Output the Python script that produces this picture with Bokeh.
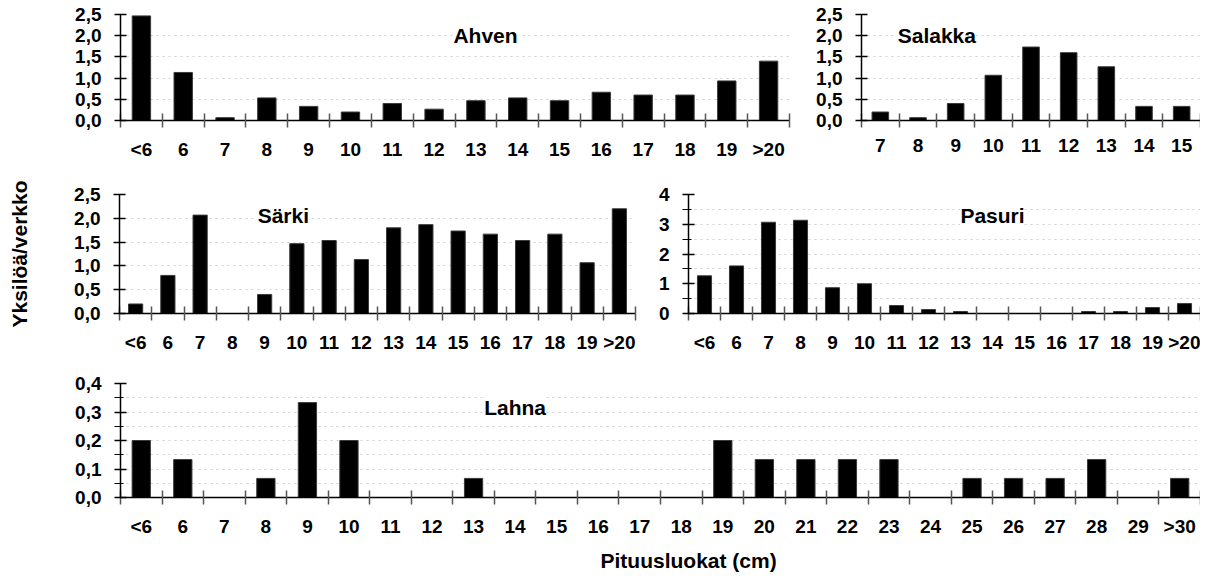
from bokeh.plotting import figure
from bokeh.layouts import column, row
from bokeh.models import Range1d, FixedTicker, Label, CustomJSTickFormatter, Title
from bokeh.embed import file_html
from bokeh.resources import INLINE

# ---- data ----
ahven_cats = ["<6", "6", "7", "8", "9", "10", "11", "12", "13", "14", "15", "16", "17", "18", "19", ">20"]
ahven_vals = [2.467, 1.133, 0.067, 0.533, 0.333, 0.2, 0.4, 0.267, 0.467, 0.533, 0.467, 0.667, 0.6, 0.6, 0.933, 1.4]

salakka_cats = ["7", "8", "9", "10", "11", "12", "13", "14", "15"]
salakka_vals = [0.2, 0.067, 0.4, 1.067, 1.733, 1.6, 1.267, 0.333, 0.333]

sarki_cats = ["<6", "6", "7", "8", "9", "10", "11", "12", "13", "14", "15", "16", "17", "18", "19", ">20"]
sarki_vals = [0.2, 0.8, 2.067, 0.0, 0.4, 1.467, 1.533, 1.133, 1.8, 1.867, 1.733, 1.667, 1.533, 1.667, 1.067, 2.2]

pasuri_cats = ["<6", "6", "7", "8", "9", "10", "11", "12", "13", "14", "15", "16", "17", "18", "19", ">20"]
pasuri_vals = [1.267, 1.6, 3.067, 3.133, 0.867, 1.0, 0.267, 0.133, 0.067, 0.0, 0.0, 0.0, 0.067, 0.067, 0.2, 0.333]

lahna_cats = ["<6", "6", "7", "8", "9", "10", "11", "12", "13", "14", "15", "16", "17", "18", "19",
              "20", "21", "22", "23", "24", "25", "26", "27", "28", "29", ">30"]
lahna_vals = [0.2, 0.133, 0.0, 0.067, 0.333, 0.2, 0.0, 0.0, 0.067, 0.0, 0.0, 0.0, 0.0, 0.0, 0.2,
              0.133, 0.133, 0.133, 0.133, 0.0, 0.067, 0.067, 0.067, 0.133, 0.0, 0.067]

y_axis_title = "Yksilöä/verkko"
x_axis_title = "Pituusluokat (cm)"

FONT = "'Liberation Sans', Arial, sans-serif"


def panel(cats, vals, ymax, major, minor, decimals, title, tx, ty,
          fw, fh, mbl, mbr, mbt, mbb):
    n = len(cats)
    xs = [i + 0.5 for i in range(n)]
    p = figure(output_backend="svg", toolbar_location=None, title=None,
               x_range=Range1d(0, n), y_range=Range1d(0, ymax),
               frame_width=fw, frame_height=fh,
               min_border_left=mbl, min_border_right=mbr,
               min_border_top=mbt, min_border_bottom=mbb)
    p.outline_line_color = None
    p.background_fill_color = "white"
    p.border_fill_color = "white"
    p.vbar(x=xs, top=vals, width=0.44, fill_color="black", line_color="#3a3a3a", line_width=1)

    # x axis: labels at category centres, tick marks at category boundaries
    p.xaxis.ticker = FixedTicker(ticks=xs, minor_ticks=list(range(n + 1)))
    p.xaxis.formatter = CustomJSTickFormatter(args=dict(labels=cats),
                                              code="const i = Math.floor(tick); return (i >= 0 && i < labels.length) ? labels[i] : '';")
    p.xaxis.major_tick_in = 0
    p.xaxis.major_tick_out = 0
    p.xaxis.minor_tick_in = 7
    p.xaxis.minor_tick_out = 7
    p.xaxis.minor_tick_line_color = "#555555"
    p.xaxis.minor_tick_line_width = 1.5
    p.xaxis.axis_line_color = "black"
    p.xaxis.axis_line_width = 1.5
    p.xaxis.major_label_standoff = 11
    p.xaxis.major_label_text_font = FONT
    p.xaxis.major_label_text_font_style = "bold"
    p.xaxis.major_label_text_font_size = "19px"
    p.xaxis.major_label_text_color = "black"
    p.xgrid.visible = False

    # y axis
    yt = FixedTicker(ticks=major, minor_ticks=minor)
    p.yaxis.ticker = yt
    p.yaxis.formatter = CustomJSTickFormatter(args=dict(d=decimals),
                                              code="return tick.toFixed(d).replace('.', ',');")
    p.yaxis.major_tick_in = 6
    p.yaxis.major_tick_out = 6
    p.yaxis.minor_tick_in = 3
    p.yaxis.minor_tick_out = 6
    p.yaxis.major_tick_line_color = "black"
    p.yaxis.minor_tick_line_color = "black"
    p.yaxis.major_tick_line_width = 1.5
    p.yaxis.axis_line_color = "black"
    p.yaxis.axis_line_width = 1.5
    p.yaxis.major_label_standoff = 13
    p.yaxis.major_label_text_font = FONT
    p.yaxis.major_label_text_font_style = "bold"
    p.yaxis.major_label_text_font_size = "19px"
    p.yaxis.major_label_text_color = "black"

    p.ygrid.ticker = yt
    p.ygrid.grid_line_color = "#cfcfcf"
    p.ygrid.grid_line_dash = "dotted"
    p.ygrid.grid_line_width = 1
    if minor:
        p.ygrid.minor_grid_line_color = "#cfcfcf"
        p.ygrid.minor_grid_line_dash = "dotted"

    p.add_layout(Label(x=tx, y=ty, text=title, text_font=FONT, text_font_style="bold",
                       text_font_size="21px", text_align="center", text_baseline="middle",
                       background_fill_color="white", text_color="black"))
    return p


half = [0, 0.5, 1.0, 1.5, 2.0, 2.5]

p1 = panel(ahven_cats, ahven_vals, 2.5, half, [], 1, "Ahven", 8.73, 2.0,
           669, 106, 120, 5, 14, 52)
p2 = panel(salakka_cats, salakka_vals, 2.5, half, [], 1, "Salakka", 2.0, 2.0,
           339, 106, 67, 0, 14, 52)
p3 = panel(sarki_cats, sarki_vals, 2.5, half, [], 1, "Särki", 5.08, 2.06,
           516, 119, 119, 5, 22, 49)
p4 = panel(pasuri_cats, pasuri_vals, 4, [0, 1, 2, 3, 4], [0.5, 1.5, 2.5, 3.5], 0, "Pasuri", 9.5, 3.31,
           512, 119, 48, 0, 22, 49)
p5 = panel(lahna_cats, lahna_vals, 0.4, [0, 0.1, 0.2, 0.3, 0.4], [0.05, 0.15, 0.25, 0.35], 1, "Lahna", 9.5, 0.316,
           1080, 114, 120, 0, 21, 0)

p3.yaxis.axis_label = y_axis_title
p3.yaxis.axis_label_standoff = 40
p3.yaxis.axis_label_text_font = FONT
p3.yaxis.axis_label_text_font_style = "bold"
p3.yaxis.axis_label_text_font_size = "21px"
p3.yaxis.axis_label_text_color = "black"

xt = Title(text=x_axis_title, align="left", offset=480, standoff=14,
           text_font=FONT, text_font_style="bold", text_font_size="21px", text_color="black")
p5.add_layout(xt, "below")
p5.min_border_bottom = 73

layout = column(row(p1, p2), row(p3, p4), p5)

open("out.html", "w").write(file_html(layout, INLINE))
